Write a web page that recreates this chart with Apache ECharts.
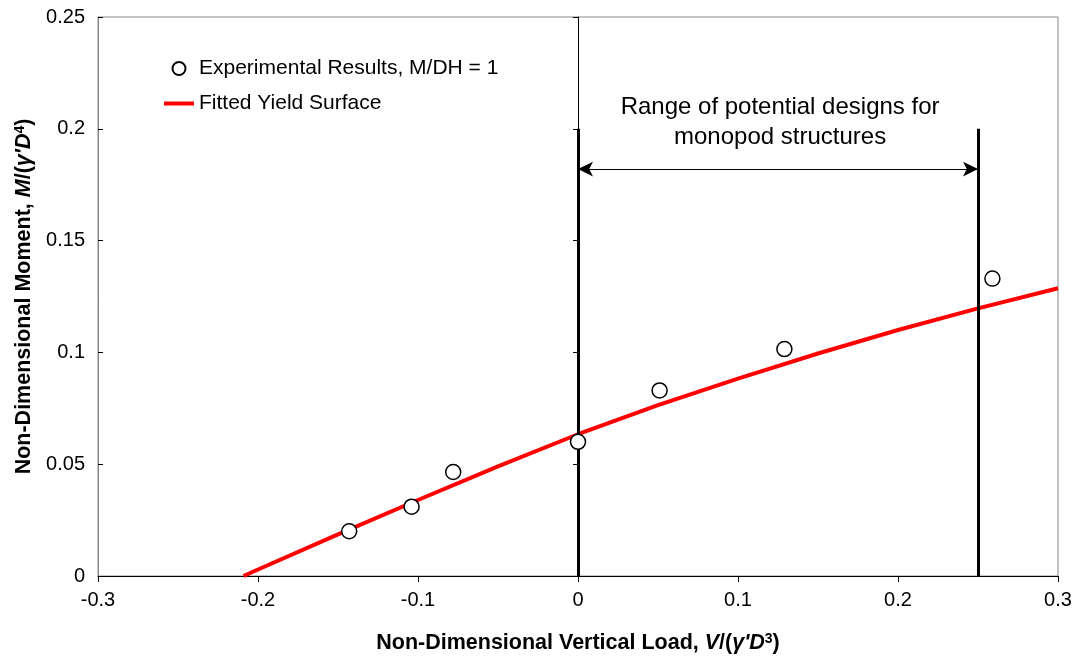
<!DOCTYPE html>
<html>
<head>
<meta charset="UTF-8">
<script src="https://cdn.jsdelivr.net/npm/echarts@6/dist/echarts.min.js"></script>
<title>Yield surface</title>
<style>
  html, body { margin: 0; background: #fff; }
  #chart { width: 1075px; height: 656px; }
</style>
</head>
<body>
<div id="chart"></div>
<script>
// measured points (V, M)
var expV = [-0.143, -0.104, -0.078, 0, 0.051, 0.129, 0.259];
var expM = [0.020, 0.031, 0.0465, 0.060, 0.083, 0.1015, 0.133];
// fitted curve
var fitV = [-0.209, -0.2, -0.15, -0.1, -0.05, 0, 0.05, 0.1, 0.15, 0.2, 0.25, 0.3];
var fitM = [0, 0.0029, 0.0186, 0.0340, 0.0490, 0.0634, 0.0764, 0.0883, 0.0995, 0.1100, 0.1197, 0.1287];
// design range annotation
var rangeV = [0, 0.25];
var rangeTop = 0.2;
var arrowM = 0.182;
var noteAt = [0.1263, 0.203];

var font = "'Liberation Sans', Arial, sans-serif";
var chart = echarts.init(document.getElementById('chart'));

function pairs(xs, ys) {
    return xs.map(function (x, i) { return [x, ys[i]]; });
}

var titleRich = {
    b: { fontFamily: font, fontSize: 21.5, fontWeight: 'bold', color: '#000' },
    i: { fontFamily: font, fontSize: 21.5, fontWeight: 'bold', fontStyle: 'italic', color: '#000' },
    s: { fontFamily: font, fontSize: 14, fontWeight: 'bold', color: '#000', verticalAlign: 'top' }
};

var yBase = { type: 'value', min: 0, max: 0.25, interval: 0.05, splitLine: { show: false } };

var option = {
    animation: false,
    grid: {
        left: 98, right: 17, top: 17, bottom: 80, outerBoundsMode: 'none',
        show: true, borderColor: '#888', borderWidth: 1
    },
    legend: {
        orient: 'vertical', left: 157, top: 53, itemWidth: 30, itemHeight: 13, itemGap: 14,
        textStyle: { fontFamily: font, fontSize: 21, color: '#000' },
        data: [
            { name: 'Experimental Results, M/DH = 1' },
            {
                name: 'Fitted Yield Surface',
                itemStyle: { color: 'rgba(0,0,0,0)', borderColor: 'rgba(0,0,0,0)' },
                lineStyle: { width: 4, color: '#ff0000' }
            }
        ]
    },
    xAxis: {
        type: 'value', min: -0.3, max: 0.3, interval: 0.1,
        axisLine: { onZero: false, lineStyle: { color: '#000', width: 1 } },
        axisTick: { length: 6, lineStyle: { color: '#000' } },
        axisLabel: { fontFamily: font, fontSize: 20, color: '#000', margin: 14 },
        splitLine: { show: false },
        name: "{b|Non-Dimensional Vertical Load, }{i|V}{b|/(}{i|\u03b3'D}{s|3}{b|)}",
        nameLocation: 'middle', nameGap: 56,
        nameTextStyle: { rich: titleRich }
    },
    yAxis: [
        Object.assign({}, yBase, {
            position: 'left',
            axisLine: { show: true, onZero: false, lineStyle: { color: '#888', width: 1 } },
            axisTick: { show: false },
            axisLabel: { fontFamily: font, fontSize: 20, color: '#000', margin: 13 },
            name: "{b|Non-Dimensional Moment, }{i|M}{b|/(}{i|\u03b3'D}{s|4}{b|)}",
            nameLocation: 'middle', nameGap: 62,
            nameTextStyle: { rich: titleRich }
        }),
        Object.assign({}, yBase, {
            position: 'left',
            axisLine: { show: true, onZero: true, lineStyle: { color: '#000', width: 1 } },
            axisTick: { show: true, inside: false, length: 5, lineStyle: { color: '#000' } },
            axisLabel: { show: false }
        }),
        Object.assign({}, yBase, {
            position: 'left',
            axisLine: { show: false, onZero: true },
            axisTick: { show: true, inside: true, length: 5, lineStyle: { color: '#000' } },
            axisLabel: { show: false }
        })
    ],
    series: [
        {
            name: 'Fitted Yield Surface', type: 'line', smooth: false, symbol: 'none',
            data: pairs(fitV, fitM),
            lineStyle: { color: '#ff0000', width: 4 },
            itemStyle: { color: '#ff0000' },
            z: 3,
            markLine: {
                silent: true, symbol: ['none', 'none'], label: { show: false },
                lineStyle: { color: '#000', width: 3, type: 'solid' },
                data: [
                    [{ coord: [rangeV[0], 0] }, { coord: [rangeV[0], rangeTop] }],
                    [{ coord: [rangeV[1], 0] }, { coord: [rangeV[1], rangeTop] }]
                ]
            }
        },
        {
            name: 'Arrow', type: 'line', data: [], symbol: 'none',
            markLine: {
                silent: true, symbol: ['arrow', 'arrow'], symbolSize: [11, 15], label: { show: false },
                lineStyle: { color: '#000', width: 1.2, type: 'solid' },
                data: [[{ coord: [rangeV[0], arrowM] }, { coord: [rangeV[1], arrowM] }]]
            }
        },
        {
            name: 'Experimental Results, M/DH = 1', type: 'scatter', symbol: 'circle', symbolSize: 15,
            data: pairs(expV, expM),
            itemStyle: { color: '#fff', borderColor: '#000', borderWidth: 1.5, opacity: 1 },
            z: 5
        }
    ]
};
chart.setOption(option);

var p = chart.convertToPixel({ gridIndex: 0 }, noteAt);
chart.setOption({
    graphic: [{
        type: 'text', x: p[0], y: p[1], silent: true,
        style: {
            text: 'Range of potential designs for\nmonopod structures',
            fontFamily: font, fontSize: 24, lineHeight: 30, fill: '#000',
            align: 'center', verticalAlign: 'middle'
        }
    }]
});
</script>
</body>
</html>
